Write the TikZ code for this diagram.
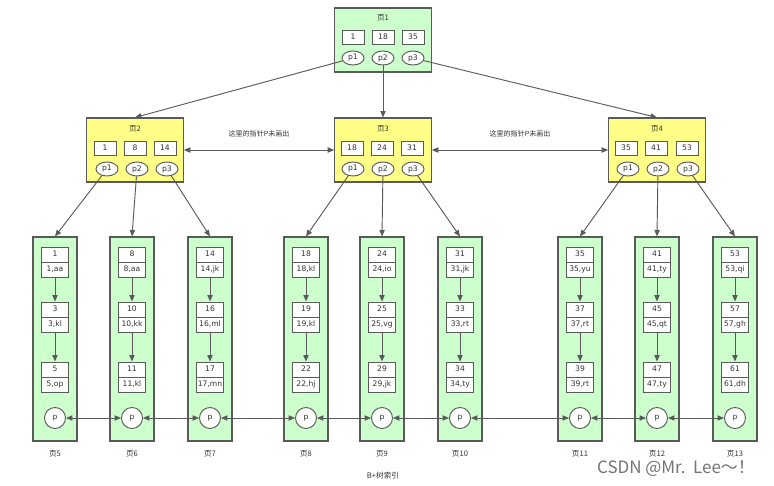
\documentclass[tikz,border=0pt]{standalone}
\usepackage{fontspec}
\setmainfont{DejaVu Sans}
\newfontfamily\cjk{Noto Sans CJK SC}
\usetikzlibrary{arrows.meta,shapes.multipart,shapes.geometric}

\definecolor{leafgreen}{HTML}{CCFFCC}
\definecolor{pageyellow}{HTML}{FFFF88}
\definecolor{edgegray}{HTML}{5A5A5A}
\definecolor{textgray}{HTML}{333333}

\begin{document}
\begin{tikzpicture}[
    x=0.03cm, y=-0.03cm,
    font=\fontsize{6.5}{8}\selectfont, text=textgray,
    innerpage/.style={draw=edgegray, line width=0.9pt, fill=pageyellow,
      minimum width=2.9cm, minimum height=1.92cm, inner sep=0pt},
    rootpage/.style={innerpage, fill=leafgreen},
    leafpage/.style={draw=edgegray, line width=0.9pt, fill=leafgreen,
      minimum width=1.32cm, minimum height=6.12cm, inner sep=0pt},
    keybox/.style={draw=edgegray, line width=0.8pt, fill=white,
      minimum width=0.66cm, minimum height=0.42cm, inner sep=0pt},
    pcell/.style={ellipse, draw=edgegray, line width=0.8pt, fill=white,
      minimum width=0.66cm, minimum height=0.42cm, inner sep=0pt},
    record/.style={rectangle split, rectangle split parts=2, draw=edgegray,
      line width=0.8pt, fill=white, text width=0.76cm, align=center,
      inner xsep=1pt, inner ysep=2pt},
    leafptr/.style={circle, draw=edgegray, line width=0.8pt, fill=white,
      minimum size=0.63cm, inner sep=0pt},
    link/.style={draw=edgegray, line width=0.8pt,
      -{Triangle[length=5.5pt,width=4.5pt]}},
    twoway/.style={link, {Triangle[length=5.5pt,width=4.5pt]}-{Triangle[length=5.5pt,width=4.5pt]}}
  ]

  % Frame of the whole picture
  \useasboundingbox (0,0) rectangle (774,486);

  % Leaf page: number, x, then three key/record pairs
  \def\leafpage#1#2#3#4#5#6#7#8{%
    \node[leafpage] (lf#1) at (#2,339) {};
    \node[record] (r#1a) at (#2,262) {\strut #3\nodepart{two}\strut #4};
    \node[record] (r#1b) at (#2,317) {\strut #5\nodepart{two}\strut #6};
    \node[record] (r#1c) at (#2,377) {\strut #7\nodepart{two}\strut #8};
    \node[leafptr] (lp#1) at (#2,418) {p};
    \node (lb#1) at (#2,454) {\cjk 页#1};
    \draw[link] (r#1a) -- (r#1b);
    \draw[link] (r#1b) -- (r#1c);
  }

  % Root page
  \node[rootpage] (pg1) at (383,40) {};
  \node (t1) at (383,18) {\cjk 页1};
  \node[keybox] (k1a) at (353,37) {1};
  \node[keybox] (k1b) at (383,37) {18};
  \node[keybox] (k1c) at (413,37) {35};
  \node[pcell] (e1a) at (353,58) {p1};
  \node[pcell] (e1b) at (383,58) {p2};
  \node[pcell] (e1c) at (413,58) {p3};

  % Second level pages
  \node[innerpage] (pg2) at (135,150) {};
  \node (t2) at (135,129) {\cjk 页2};
  \node[keybox] (k2a) at (105,148) {1};
  \node[keybox] (k2b) at (135,148) {8};
  \node[keybox] (k2c) at (165,148) {14};
  \node[pcell] (e2a) at (107,169) {p1};
  \node[pcell] (e2b) at (137,169) {p2};
  \node[pcell] (e2c) at (167,169) {p3};

  \node[innerpage] (pg3) at (383,150) {};
  \node (t3) at (383,129) {\cjk 页3};
  \node[keybox] (k3a) at (352,148) {18};
  \node[keybox] (k3b) at (382,148) {24};
  \node[keybox] (k3c) at (412,148) {31};
  \node[pcell] (e3a) at (353,169) {p1};
  \node[pcell] (e3b) at (383,169) {p2};
  \node[pcell] (e3c) at (413,169) {p3};

  \node[innerpage] (pg4) at (657,150) {};
  \node (t4) at (657,129) {\cjk 页4};
  \node[keybox] (k4a) at (626,148) {35};
  \node[keybox] (k4b) at (656,148) {41};
  \node[keybox] (k4c) at (687,148) {53};
  \node[pcell] (e4a) at (628,169) {p1};
  \node[pcell] (e4b) at (658,169) {p2};
  \node[pcell] (e4c) at (688,169) {p3};

  % Leaf pages
  \leafpage{5}{55}{1}{1,aa}{3}{3,kl}{5}{5,op}
  \leafpage{6}{132}{8}{8,aa}{10}{10,kk}{11}{11,kl}
  \leafpage{7}{210}{14}{14,jk}{16}{16,ml}{17}{17,mn}
  \leafpage{8}{306}{18}{18,kl}{19}{19,kl}{22}{22,hj}
  \leafpage{9}{382}{24}{24,io}{25}{25,vg}{29}{29,jk}
  \leafpage{10}{460}{31}{31,jk}{33}{33,rt}{34}{34,ty}
  \leafpage{11}{580}{35}{35,yu}{37}{37,rt}{39}{39,rt}
  \leafpage{12}{657}{41}{41,ty}{45}{45,qt}{47}{47,ty}
  \leafpage{13}{735}{53}{53,qi}{57}{57,gh}{61}{61,dh}

  % Root to second level
  \draw[link] (e1a) -- (pg2.north);
  \draw[link] (e1b) -- (pg3.north);
  \draw[link] (e1c) -- (pg4.north);

  % Second level to leaves
  \draw[link] (e2a) -- (lf5.north);
  \draw[link] (e2b) -- (lf6.north);
  \draw[link] (e2c) -- (lf7.north);
  \draw[link] (e3a) -- (lf8.north);
  \draw[link] (e3b) -- (lf9.north);
  \draw[link] (e3c) -- (lf10.north);
  \draw[link] (e4a) -- (lf11.north);
  \draw[link] (e4b) -- (lf12.north);
  \draw[link] (e4c) -- (lf13.north);

  % Sibling links on the second level
  \draw[twoway] (pg2.east) -- node[above=7pt, font=\cjk\fontsize{6}{7}\selectfont] (note1) {这里的指针P未画出} (pg3.west);
  \draw[twoway] (pg3.east) -- node[above=7pt, font=\cjk\fontsize{6}{7}\selectfont] (note2) {这里的指针P未画出} (pg4.west);

  % Leaf chain
  \draw[twoway] (lp5) -- (lp6);
  \draw[twoway] (lp6) -- (lp7);
  \draw[twoway] (lp7) -- (lp8);
  \draw[twoway] (lp8) -- (lp9);
  \draw[twoway] (lp9) -- (lp10);
  \draw[twoway] (lp10) -- (lp11);
  \draw[twoway] (lp11) -- (lp12);
  \draw[twoway] (lp12) -- (lp13);

  % Caption and mark
  \node (title) at (383,476) {\cjk B+树索引};
  \node[font=\cjk\fontsize{14.5}{17}\selectfont, text=black!55] (mark) at (676,469) {CSDN @Mr.\ \ Lee～！};

\end{tikzpicture}
\end{document}
